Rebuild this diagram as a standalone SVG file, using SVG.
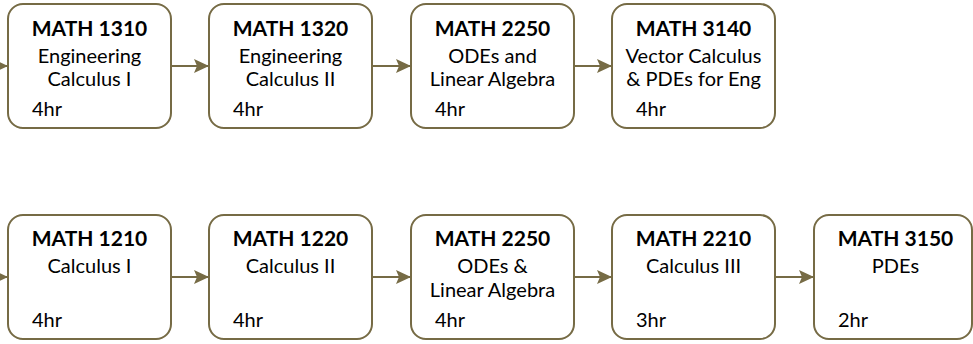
<svg xmlns="http://www.w3.org/2000/svg" width="973" height="344" viewBox="0 0 973 344">
<style>
.box{fill:#fff;stroke:#766B45;stroke-width:2}
.t{font-family:Lato,"Liberation Sans",sans-serif;font-weight:700;font-size:21px;fill:#000;text-anchor:middle}
.s{font-family:Lato,"Liberation Sans",sans-serif;font-size:20px;fill:#000;text-anchor:middle}
.h{font-family:Lato,"Liberation Sans",sans-serif;font-size:20px;fill:#000}
.c{fill:none;stroke:#766B45;stroke-width:2}
</style>
<defs>
<marker id="ah" markerUnits="userSpaceOnUse" markerWidth="16" markerHeight="16" refX="15" refY="7" orient="auto" viewBox="0 0 16 14">
<path d="M0,0 L15,7 L0,14 L3,7 z" fill="#766B45"/>
</marker>
</defs>
<rect width="973" height="344" fill="#fff"/>
<g id="connectors">
<path class="c" d="M-12,66 H8" marker-end="url(#ah)"/>
<path class="c" d="M171,66 H209" marker-end="url(#ah)"/>
<path class="c" d="M372,66 H411" marker-end="url(#ah)"/>
<path class="c" d="M574,66 H612" marker-end="url(#ah)"/>
<path class="c" d="M-12,277 H8" marker-end="url(#ah)"/>
<path class="c" d="M171,277 H209" marker-end="url(#ah)"/>
<path class="c" d="M372,277 H411" marker-end="url(#ah)"/>
<path class="c" d="M574,277 H612" marker-end="url(#ah)"/>
<path class="c" d="M775,277 H814" marker-end="url(#ah)"/>
</g>
<g id="math1310">
<rect class="box" x="8" y="4" width="163" height="124" rx="15"/>
<text class="t" x="89.5" y="36">MATH 1310</text>
<text class="s" x="89.5" y="63">Engineering</text>
<text class="s" x="89.5" y="86">Calculus I</text>
<text class="h" x="32" y="116">4hr</text>
</g>
<g id="math1320">
<rect class="box" x="209" y="4" width="163" height="124" rx="15"/>
<text class="t" x="290.5" y="36">MATH 1320</text>
<text class="s" x="290.5" y="63">Engineering</text>
<text class="s" x="290.5" y="86">Calculus II</text>
<text class="h" x="233" y="116">4hr</text>
</g>
<g id="math2250a">
<rect class="box" x="411" y="4" width="163" height="124" rx="15"/>
<text class="t" x="492.5" y="36">MATH 2250</text>
<text class="s" x="492.5" y="63">ODEs and</text>
<text class="s" x="492.5" y="86">Linear Algebra</text>
<text class="h" x="435" y="116">4hr</text>
</g>
<g id="math3140">
<rect class="box" x="612" y="4" width="163" height="124" rx="15"/>
<text class="t" x="693.5" y="36">MATH 3140</text>
<text class="s" x="693.5" y="63">Vector Calculus</text>
<text class="s" x="693.5" y="86">&amp; PDEs for Eng</text>
<text class="h" x="636" y="116">4hr</text>
</g>
<g id="math1210">
<rect class="box" x="8" y="215" width="163" height="124" rx="15"/>
<text class="t" x="89.5" y="246">MATH 1210</text>
<text class="s" x="89.5" y="273">Calculus I</text>
<text class="h" x="32" y="327">4hr</text>
</g>
<g id="math1220">
<rect class="box" x="209" y="215" width="163" height="124" rx="15"/>
<text class="t" x="290.5" y="246">MATH 1220</text>
<text class="s" x="290.5" y="273">Calculus II</text>
<text class="h" x="233" y="327">4hr</text>
</g>
<g id="math2250b">
<rect class="box" x="411" y="215" width="163" height="124" rx="15"/>
<text class="t" x="492.5" y="246">MATH 2250</text>
<text class="s" x="492.5" y="273">ODEs &amp;</text>
<text class="s" x="492.5" y="297">Linear Algebra</text>
<text class="h" x="435" y="327">4hr</text>
</g>
<g id="math2210">
<rect class="box" x="612" y="215" width="163" height="124" rx="15"/>
<text class="t" x="693.5" y="246">MATH 2210</text>
<text class="s" x="693.5" y="273">Calculus III</text>
<text class="h" x="636" y="327">3hr</text>
</g>
<g id="math3150">
<rect class="box" x="814" y="215" width="158" height="124" rx="15"/>
<text class="t" x="895.5" y="246">MATH 3150</text>
<text class="s" x="895.5" y="273">PDEs</text>
<text class="h" x="838" y="327">2hr</text>
</g>
</svg>
